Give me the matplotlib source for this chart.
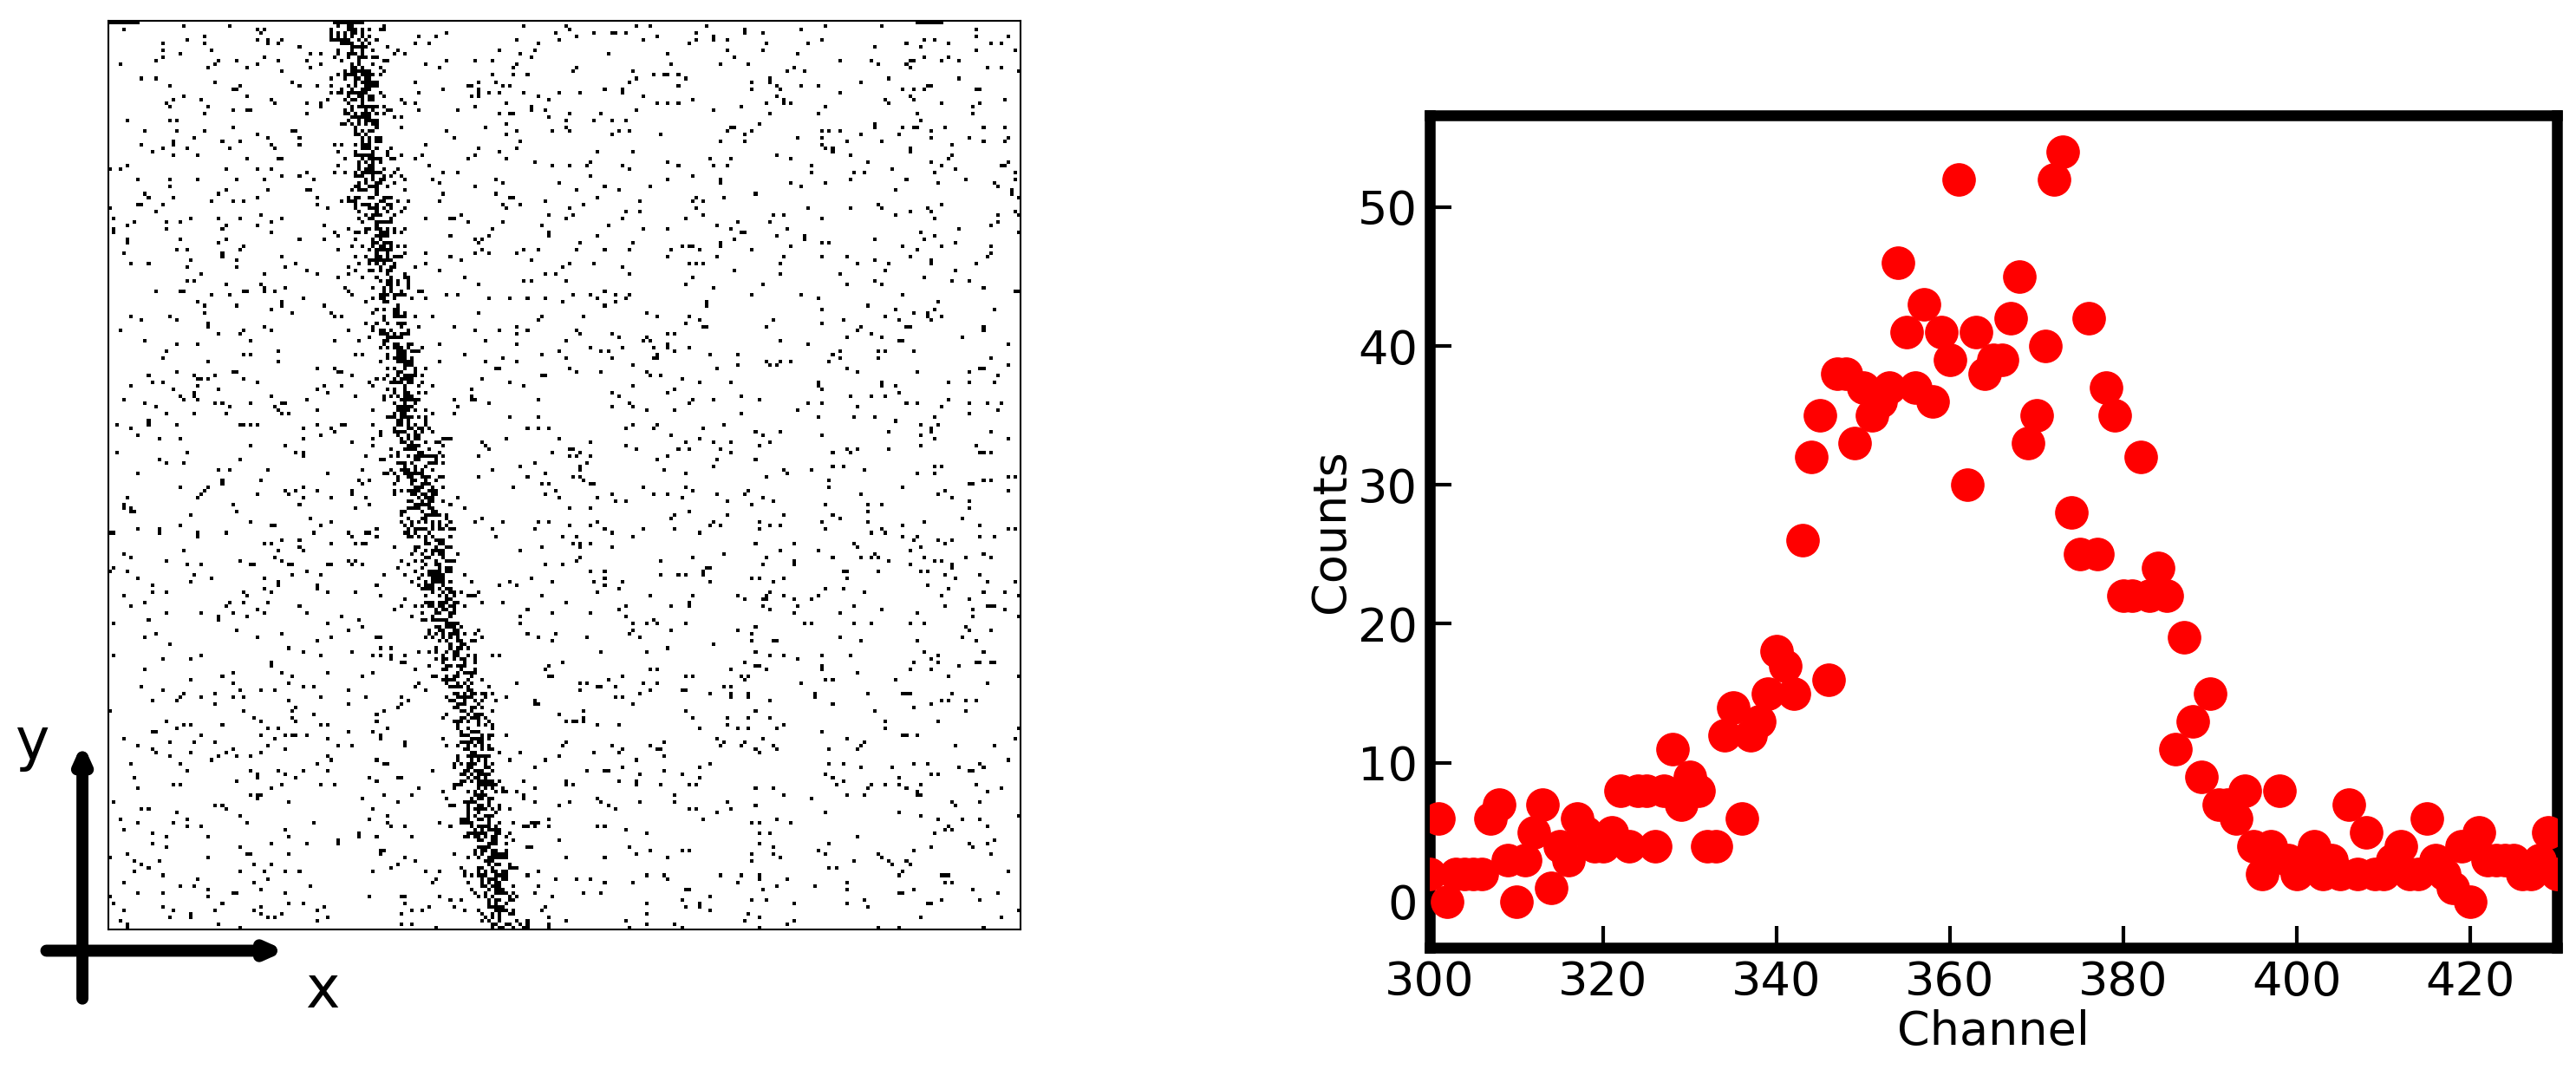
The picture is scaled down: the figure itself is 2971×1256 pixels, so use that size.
import numpy as np
import matplotlib
matplotlib.use('Agg')
import matplotlib.pyplot as plt

# spectrum, one count per channel
channels = np.arange(300, 431)
counts = [2, 6, 0, 2, 2, 2, 2, 6, 7, 3,
          0, 3, 5, 7, 1, 4, 3, 6, 5, 4,
          4, 5, 8, 4, 8, 8, 4, 8, 11, 7,
          9, 8, 4, 4, 12, 14, 6, 12, 13, 15,
          18, 17, 15, 26, 32, 35, 16, 38, 38, 33,
          37, 35, 36, 37, 46, 41, 37, 43, 36, 41,
          39, 52, 30, 41, 38, 39, 39, 42, 45, 33,
          35, 40, 52, 54, 28, 25, 42, 25, 37, 35,
          22, 22, 32, 22, 24, 22, 11, 19, 13, 9,
          15, 7, 7, 6, 8, 4, 2, 4, 8, 3,
          2, 3, 4, 2, 3, 2, 7, 2, 5, 2,
          2, 3, 4, 2, 2, 6, 3, 2, 1, 4,
          0, 5, 3, 3, 3, 3, 2, 2, 3, 5, 2]
x_ticks = [300, 320, 340, 360, 380, 400, 420]
y_ticks = [0, 10, 20, 30, 40, 50]

# centre of the dark streak in the detector image (fraction of width, top -> bottom)
streak_rows = [0.0, 0.25, 0.52, 0.79, 1.0]
streak_cols = [0.263, 0.299, 0.341, 0.398, 0.430]

fig = plt.figure(figsize=(29.71, 12.56), dpi=100)

# ---- left: detector image ----
n = 260
rows, cols = np.mgrid[0:n, 0:n]
centre = np.interp(rows / n, streak_rows, streak_cols) * n
dist = (cols - centre) / (0.014 * n)
prob = 0.035 + 0.55 * np.exp(-0.5 * dist ** 2)
h = (rows.astype(np.uint64) * np.uint64(73856093)) ^ (cols.astype(np.uint64) * np.uint64(19349663))
h = (h * np.uint64(2654435761)) % np.uint64(100003)
texture = (h.astype(float) / 100003.0) < prob

ax1 = fig.add_axes([0.042, 0.1465, 0.354, 0.834])
ax1.imshow(texture, cmap='gray_r', interpolation='nearest', aspect='auto')
ax1.set_xticks([])
ax1.set_yticks([])
for s in ax1.spines.values():
    s.set_linewidth(1.5)

# x / y arrows
arr = fig.add_axes([0, 0, 1, 1], facecolor='none')
arr.set_axis_off()
arr.set_xlim(0, 1)
arr.set_ylim(0, 1)
style = dict(arrowstyle='-|>,head_length=1.0,head_width=0.45', lw=10,
             color='black', shrinkA=0, shrinkB=0)
arr.annotate('', xy=(0.032, 0.318), xytext=(0.032, 0.083), arrowprops=style)
arr.annotate('', xy=(0.111, 0.127), xytext=(0.018, 0.127), arrowprops=style)
arr.text(0.0125, 0.318, 'y', fontsize=48, ha='center', va='center')
arr.text(0.125, 0.09, 'x', fontsize=48, ha='center', va='center')

# ---- right: spectrum ----
ax2 = fig.add_axes([0.555, 0.130, 0.4376, 0.764])
ax2.scatter(channels, counts, s=720, color='red', zorder=3, clip_on=True)
ax2.set_xlim(300, 430)
ax2.set_ylim(-3.3, 56.6)
ax2.set_xticks(x_ticks)
ax2.set_yticks(y_ticks)
ax2.tick_params(direction='in', length=18, width=3, labelsize=39, pad=10)
for s in ax2.spines.values():
    s.set_linewidth(9)
ax2.set_xlabel('Channel', fontsize=39)
ax2.set_ylabel('Counts', fontsize=39)

fig.savefig('out.png', dpi=100)
